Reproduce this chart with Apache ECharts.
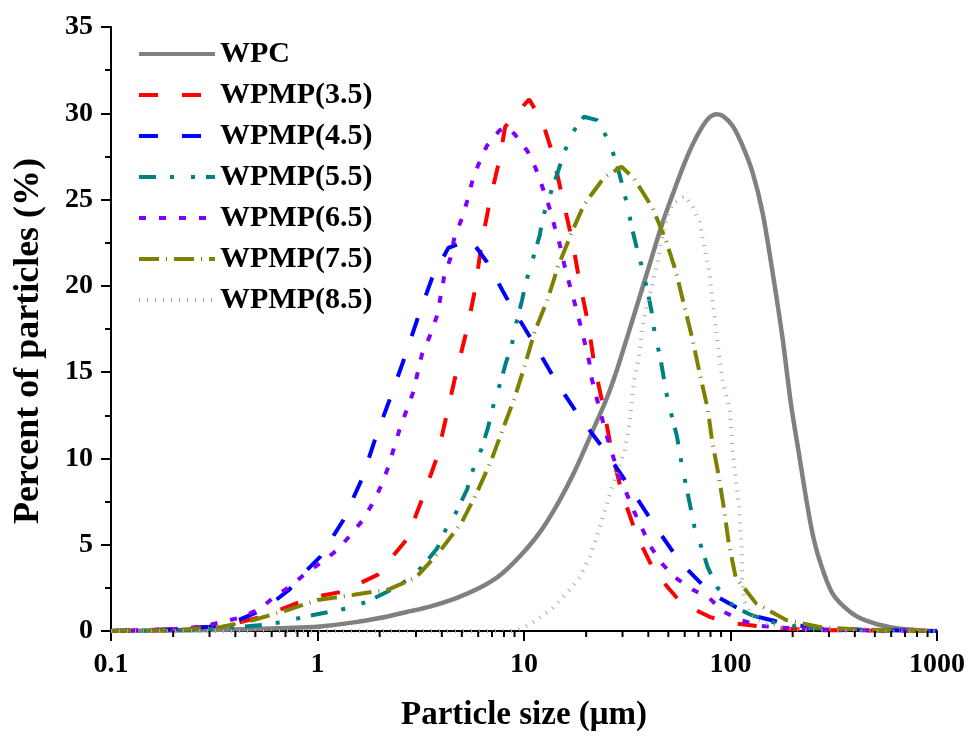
<!DOCTYPE html>
<html><head><meta charset="utf-8">
<script src="https://cdn.jsdelivr.net/npm/echarts@6/dist/echarts.min.js"></script>
<style>html,body{margin:0;padding:0;background:#fff}#c{width:968px;height:738px}</style>
</head><body><div id="c"></div>
<script>
// ---- data: [particle size (µm), percent of particles (%)] ----
const WPC = [[0.1,0],[0.2,0.03],[0.3,0.06],[0.5,0.12],[0.7,0.17],[1,0.25],[1.5,0.5],[2,0.75],[2.7,1.1],[3.5,1.41],[4.7,1.9],[6.1,2.5],[7.6,3.2],[9.5,4.3],[11.9,5.7],[14.6,7.4],[17.5,9.2],[21.5,11.6],[25,13.4],[28.3,15.2],[34.3,18.4],[40,21.0],[47,23.7],[52.5,25.3],[58.7,26.85],[65.6,28.2],[73.4,29.27],[79.1,29.76],[85.2,29.95],[91.7,29.85],[102.5,29.27],[114.6,28.1],[128,26.56],[143,24.24],[160,20.76],[179,16.9],[196,13.2],[215,10.2],[233,7.6],[249,5.7],[270,4.1],[311,2.2],[380,1.1],[454,0.6],[600,0.2],[800,0.05],[1000,0]];
const WPMP35 = [[0.1,0],[0.2,0.1],[0.3,0.25],[0.4,0.45],[0.53,0.8],[0.79,1.6],[1.0,2.0],[1.29,2.26],[1.5,2.6],[1.95,3.25],[2.7,5.3],[3.2,7.6],[3.8,10.1],[4.2,12.4],[4.7,15],[5.3,17.5],[5.8,19.8],[6.2,22.3],[6.8,24.8],[7.6,27.3],[8.1,29.2],[8.7,29.7],[10.6,30.8],[12.3,29.5],[13.8,27.6],[15.3,25.2],[17.2,22.5],[18.6,20.2],[20.4,17.9],[22,15.3],[24.2,13],[26.7,10.3],[29.8,8],[35,5.6],[43,3.4],[58,1.6],[80,0.8],[96,0.5],[156,0.2],[250,0.05],[1000,0]];
const WPMP45 = [[0.1,0],[0.2,0.08],[0.3,0.25],[0.4,0.55],[0.51,1.1],[0.6,1.6],[0.73,2.4],[0.85,3.3],[1.03,4.3],[1.33,6.4],[1.64,8.8],[1.9,11.1],[2.25,13.5],[2.65,15.9],[3.07,18.2],[3.6,20.5],[4.3,22.2],[5.5,22.7],[6.6,21.4],[8.5,19],[11,16.8],[14.4,14.4],[18.6,12.4],[25.2,10.3],[33,8.2],[43.6,6.0],[57,4.0],[80,2.2],[124,0.93],[197,0.35],[300,0.15],[500,0.05],[1000,0]];
const WPMP55 = [[0.1,0],[0.2,0.05],[0.3,0.1],[0.42,0.23],[0.54,0.35],[0.66,0.5],[0.85,0.8],[1.13,1.1],[1.38,1.3],[1.74,1.7],[2.2,2.3],[2.6,2.8],[3.2,3.7],[3.8,4.8],[4.1,5.7],[4.7,6.9],[5.3,8.2],[5.6,9.2],[6.2,10.5],[6.7,11.8],[7.0,12.8],[7.6,14.2],[8.2,15.6],[8.7,16.5],[9.2,17.9],[9.8,19.2],[10.2,20.2],[11,21.5],[11.9,22.9],[12.3,23.9],[13.3,25.2],[14.6,26.6],[15.4,27.5],[17,28.8],[19.5,29.8],[22.6,29.6],[26,28.3],[28.2,27],[29.7,26],[31.6,24.7],[33.4,23.3],[35,22.3],[37.4,21],[39.8,19.6],[41.5,18.5],[43,17.2],[45.8,15.8],[47.3,14.8],[49.6,13.4],[55,11.3],[57.8,9.8],[61,8.4],[67,6.0],[73.5,4.6],[77.5,3.7],[86.6,2.5],[104,1.4],[126,0.93],[159,0.52],[215,0.23],[300,0.1],[500,0.03],[1000,0]];
const WPMP65 = [[0.1,0],[0.15,0.05],[0.2,0.1],[0.25,0.2],[0.3,0.35],[0.43,0.8],[0.53,1.3],[0.62,2.0],[0.73,2.55],[0.89,3.4],[1.05,4.0],[1.25,4.7],[1.43,5.5],[1.65,6.4],[1.85,7.4],[2.05,8.5],[2.2,9.5],[2.5,11.7],[2.9,13.8],[3.2,16.0],[3.5,17.1],[3.8,18.3],[4.1,20.5],[4.4,21.6],[4.6,22.8],[5.0,23.9],[5.3,24.9],[5.6,26.0],[6.0,27.0],[6.6,28.1],[7.6,29.0],[8.2,29.2],[9.0,28.8],[10.4,27.8],[11.4,26.8],[12.3,25.7],[13.3,24.5],[14.1,23.4],[14.9,22.4],[15.7,21.2],[16.6,20.1],[17.6,19.0],[18.6,17.9],[19.6,16.8],[20.7,15.6],[21.3,14.6],[22.6,13.4],[25.3,11.2],[28.7,9.1],[34.2,6.9],[41,4.9],[46.6,3.9],[54,3.1],[65.5,2.4],[79,1.9],[93,1.1],[114,0.6],[140,0.3],[170,0.2],[250,0.1],[400,0.05],[1000,0]];
const WPMP75 = [[0.1,0],[0.2,0.05],[0.34,0.23],[0.49,0.64],[0.71,1.2],[1.0,1.8],[1.5,2.1],[2.2,2.4],[3.0,3.1],[3.9,4.6],[5.0,6.3],[5.9,8.0],[6.9,9.8],[7.9,11.7],[9.0,13.5],[10.1,15.4],[11.3,17.4],[13,19.2],[14.6,21.1],[16.9,23.0],[19.5,24.7],[24.5,26.3],[29.7,26.9],[34.2,26.2],[42,24.5],[48.8,22.6],[54.5,20.8],[59.8,18.8],[65.5,16.9],[70.7,15.0],[77.5,12.9],[81.5,11],[87.3,9.1],[93,7.1],[98,5.1],[106,3.1],[133,1.6],[186,0.64],[270,0.23],[400,0.1],[600,0.05],[1000,0]];
const WPMP85 = [[0.1,0],[9,0],[10.6,0.35],[13.7,1.3],[16.1,2.2],[18.6,3.1],[20.8,4.3],[22.6,5.5],[24.5,6.9],[26.5,8.2],[28.5,9.3],[30.8,10.5],[32.5,12.1],[34,14.4],[36,15.9],[37.3,17.5],[39.6,19],[41.7,20],[44.3,21.4],[46.6,22.7],[49,23.9],[52.6,24.8],[60,25.2],[65.6,24.6],[70.7,23.7],[74.8,22.2],[79,20.8],[81.7,19.2],[86.6,16.7],[91,14.7],[99.5,12.7],[102,10.7],[106,8.8],[110,7.2],[113,4.9],[114,3.0],[116,1.8],[124,1.0],[144,0.45],[200,0.1],[300,0],[1000,0]];
const seriesNames = ['WPC','WPMP(3.5)','WPMP(4.5)','WPMP(5.5)','WPMP(6.5)','WPMP(7.5)','WPMP(8.5)'];
const seriesData = [WPC, WPMP35, WPMP45, WPMP55, WPMP65, WPMP75, WPMP85];
const xTickLabels = ['0.1','1','10','100','1000'];
const xMinorTicks = [0.2,0.3,0.4,0.5,0.6,0.7,0.8,0.9,2,3,4,5,6,7,8,9,20,30,40,50,60,70,80,90,200,300,400,500,600,700,800,900];

const FONT = '"Liberation Serif","Times New Roman",serif';
const styles = [
  {color:'#808080', type:'solid', width:4.5},
  {color:'#ff0000', type:[19,24], width:4},
  {color:'#0000ff', type:[19,24], width:4},
  {color:'#008080', type:[17,14,4,17,4,11], width:4},
  {color:'#8000ff', type:[7,13], width:4},
  {color:'#808000', type:[20,7,1,7], width:4},
  {color:'#a8a8a8', type:[1,7], width:4}
];

const series = seriesNames.map((n,i)=>({
  name:n, type:'line', data:seriesData[i], symbol:'none', showSymbol:false,
  smooth: i===0 ? 0.3 : false,
  lineStyle:{color:styles[i].color, type:styles[i].type, width:styles[i].width, cap:'butt'},
  itemStyle:{color:styles[i].color},
  z: 2 + (i===0?0:1)
}));
series.push({
  type:'custom', name:'minorTicks', silent:true, clip:false, z:10,
  data: xMinorTicks.map(v=>[v,0]),
  renderItem:(p,api)=>{
    const pt = api.coord([api.value(0),0]);
    return {type:'line', shape:{x1:pt[0],y1:pt[1],x2:pt[0],y2:pt[1]+6}, style:{stroke:'#000',lineWidth:2}};
  }
});

const chart = echarts.init(document.getElementById('c'), null, {renderer:'canvas'});
chart.setOption({
  animation:false,
  backgroundColor:'#fff',
  grid:{left:111, right:30, top:27, bottom:107, containLabel:false},
  legend:{
    data:seriesNames, orient:'vertical', left:137, top:39, padding:0,
    itemWidth:76, itemHeight:14, itemGap:11,
    itemStyle:{opacity:0},
    lineStyle:{width:4},
    textStyle:{fontFamily:FONT, fontWeight:'bold', fontSize:30, color:'#000'},
    selectedMode:false
  },
  xAxis:{
    type:'log', logBase:10, min:0.1, max:1000, splitNumber:4,
    name:'Particle size (\u03bcm)', nameLocation:'middle', nameGap:68,
    nameTextStyle:{fontFamily:FONT, fontWeight:'bold', fontSize:33, color:'#000'},
    axisLine:{show:true, lineStyle:{color:'#000', width:2}},
    axisTick:{show:true, length:10, lineStyle:{color:'#000', width:2}},
    minorTick:{show:false},
    splitLine:{show:false},
    axisLabel:{fontFamily:FONT, fontWeight:'bold', fontSize:28, color:'#000', margin:20,
      formatter:(v)=>{const s=String(Number(v.toPrecision(6))); return xTickLabels.indexOf(s)>=0?s:'';}}
  },
  yAxis:{
    type:'value', min:0, max:35, interval:5,
    name:'Percent of particles (%)', nameLocation:'middle', nameGap:64, nameRotate:90,
    nameTextStyle:{fontFamily:FONT, fontWeight:'bold', fontSize:36, color:'#000', padding:[0,24,0,0]},
    axisLine:{show:true, lineStyle:{color:'#000', width:2}},
    axisTick:{show:true, length:10, lineStyle:{color:'#000', width:2}},
    minorTick:{show:true, splitNumber:2, length:6, lineStyle:{color:'#000', width:2}},
    splitLine:{show:false},
    axisLabel:{fontFamily:FONT, fontWeight:'bold', fontSize:28, color:'#000', margin:18}
  },
  series: series
});
</script></body></html>
